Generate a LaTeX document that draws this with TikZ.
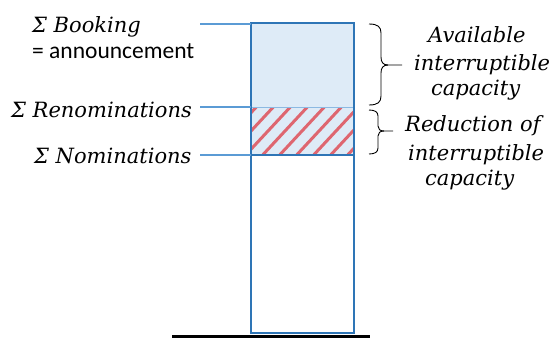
\documentclass[tikz,border=0pt]{standalone}
\usepackage{fontspec}
\setmainfont{DejaVu Serif}
\newfontfamily\labsans{Carlito}
\definecolor{boxblue}{RGB}{46,117,182}
\definecolor{lineblue}{RGB}{91,155,213}
\definecolor{fillblue}{RGB}{222,235,247}
\definecolor{hatchred}{RGB}{222,102,112}
\tikzset{
  lab/.style={font=\fontsize{21}{24}\selectfont\itshape, inner sep=0pt, anchor=base west},
  sanslab/.style={font=\fontsize{23.5}{28}\selectfont\labsans, inner sep=0pt, anchor=base west},
  tick/.style={draw=lineblue, line width=1.6pt},
  bracestyle/.style={draw=black, line width=0.9pt},
}
\begin{document}
\begin{tikzpicture}[x=1pt,y=-1pt]
\useasboundingbox (0,0) rectangle (558,338);
% fills
\fill[fillblue] (251,23) rectangle (354,155);
\begin{scope}
\clip (251,107) rectangle (354,155);
\foreach \i in {-4,...,12} {
  \draw[hatchred, line width=3pt] ({241+17*\i},160) -- ({241+17*\i+54},102);
}
\end{scope}
\draw[lineblue!70, line width=1pt] (251,107) -- (354,107);
\draw[boxblue, line width=2.6pt] (251,155) -- (354,155);
% box
\draw[boxblue, line width=2.6pt] (251,23) rectangle (354,333);
% ground
\draw[black, line width=3pt] (172,336) -- (370,336);
% labels
\node[lab] (book) at (32,32) {Σ Booking};
\node[sanslab] (ann) at (32,58) {= announcement};
\node[lab] (reno) at (11,117) {Σ Renominations};
\node[lab] (nomi) at (34,163) {Σ Nominations};
\coordinate (bookL) at (200,24);
\coordinate (bookR) at (251,24);
\coordinate (renoL) at (200,107);
\coordinate (renoR) at (251,107);
\coordinate (nomiL) at (200,155);
\coordinate (nomiR) at (251,155);
\draw[tick] (bookL) -- (bookR);
\draw[tick] (renoL) -- (renoR);
\draw[tick] (nomiL) -- (nomiR);
% braces
\draw[bracestyle] (369,24) .. controls (378,24) and (381,27) .. (381,33) -- (381,57)
  .. controls (381,62) and (383,65) .. (388,65) -- (402,65);
\draw[bracestyle] (388,65) .. controls (383,65) and (381,68) .. (381,73) -- (381,96)
  .. controls (381,102) and (378,105) .. (369,105);
\draw[bracestyle] (369,110) .. controls (375,110) and (378,112) .. (378,116) -- (378,126)
  .. controls (378,129) and (380,131) .. (384,131) -- (393,131);
\draw[bracestyle] (384,131) .. controls (380,131) and (378,133) .. (378,136) -- (378,148)
  .. controls (378,152) and (375,154) .. (369,154);
% right texts
\node[lab] (av1) at (428,42) {Available};
\node[lab] (av2) at (414,70) {interruptible};
\node[lab] (av3) at (431,95) {capacity};
\node[lab] (rd1) at (405,131) {Reduction of};
\node[lab] (rd2) at (408,160) {interruptible};
\node[lab] (rd3) at (425,185) {capacity};
\end{tikzpicture}
\end{document}
